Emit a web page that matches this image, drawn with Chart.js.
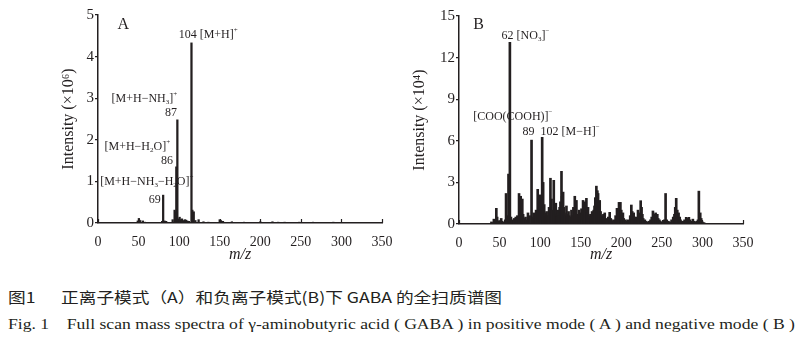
<!DOCTYPE html>
<html>
<head>
<meta charset="utf-8">
<script src="https://cdn.jsdelivr.net/npm/chart.js@4.4.0/dist/chart.umd.min.js"></script>
<style>
    body { margin: 0; background: #fff; width: 800px; height: 343px; overflow: hidden; position: relative; color: #231f20; }
    #wrapA { position: absolute; left: 0; top: 0; width: 400px; height: 270px; }
    #wrapB { position: absolute; left: 400px; top: 0; width: 400px; height: 270px; }
    .cap { position: absolute; left: 8px; white-space: pre; transform-origin: 0 50%; line-height: 18px; }
    #capCn { top: 288px; font-family: 'Noto Sans CJK SC', sans-serif; font-size: 15px; }
    #capEn { top: 315px; font-family: 'Liberation Serif', serif; font-size: 15px; }
</style>
</head>
<body>
<div id="wrapA"><canvas id="chartA" width="400" height="270"></canvas></div>
<div id="wrapB"><canvas id="chartB" width="400" height="270"></canvas></div>
<div class="cap" id="capCn">图1　  正离子模式（A）和负离子模式(B)下 GABA 的全扫质谱图</div>
<div class="cap" id="capEn">Fig. 1    Full scan mass spectra of γ-aminobutyric acid ( GABA ) in positive mode ( A ) and negative mode ( B )</div>

<script>
// ── DATA ──────────────────────────────────────────────────────────────────────
// Panel A: positive mode, intensity x10^6
const mzA  = [49, 50.4, 52, 55.3, 58, 79, 80.3, 82, 84, 92, 94.4, 95.3, 96.5, 97.8, 99, 100.6, 102, 103.5, 105, 107,
              108.5, 110, 112, 115.2, 116.3, 118, 120, 124, 130, 136, 150, 151.5, 154, 165, 180, 200, 215, 222, 230, 248, 265, 290];
const intA = [0.05, 0.11, 0.06, 0.05, 0.02, 0.04, 0.67, 0.05, 0.04, 0.08, 0.31, 0.27, 1.35, 2.48, 0.1, 0.14, 0.08, 0.1, 0.06, 0.08,
              0.07, 0.05, 0.04, 4.33, 0.31, 0.27, 0.06, 0.08, 0.03, 0.02, 0.08, 0.06, 0.04, 0.03, 0.02, 0.03, 0.03, 0.02, 0.02, 0.02, 0.02, 0.02];

// Panel B: negative mode, intensity x10^4
const mzB  = [40, 41, 43, 45, 46, 47, 48, 50, 52, 53, 55, 57, 58, 59, 61, 62.7, 64, 65, 67, 68,
              70, 71, 72, 74, 76, 78, 79, 80, 82, 83, 85, 86, 87, 89.4, 91, 92, 93, 95, 97, 98,
              99.6, 101, 102.5, 103.7, 105, 106, 107, 108, 110, 111, 112.7, 114, 115, 116.8, 118, 119.3, 120, 121, 122, 123,
              124, 125, 126.3, 127, 128.3, 129, 130, 131, 132.4, 133, 134, 135, 136, 137, 138.6, 140, 141, 142.7, 143.5, 144.7,
              146, 148, 149, 150, 151, 152.9, 154, 155, 157, 158, 159, 160, 161, 162, 163, 164, 165, 166, 167, 168,
              169.3, 170.5, 171.4, 172.5, 173.4, 174.5, 176, 177, 178, 179.6, 181, 182, 184, 185.7, 187, 188, 190, 191, 193, 194.7,
              196, 197.2, 198.9, 200, 201, 202, 203, 205, 206, 208, 209, 211, 212.4, 213.5, 215.3, 216.5, 218, 219, 220.6, 222,
              223.9, 225, 226, 227, 229, 230, 232, 234, 236, 237.5, 239, 240.5, 242.3, 244.4, 245.5, 247, 248, 250, 252, 253,
              254.6, 256, 258, 260, 262, 264, 265.5, 266.5, 267.7, 269, 270.6, 272, 273, 275, 277, 278, 280, 281.5, 283.3, 284.5,
              286, 288.2, 289.5, 291, 293, 294.5, 295.6, 297.3, 298.5, 300, 302];
const intB = [0.15, 0.1, 0.35, 0.3, 1.13, 0.5, 0.2, 0.25, 0.4, 0.2, 0.15, 0.3, 2.2, 0.6, 3.6, 13.1, 0.5, 0.3, 0.2, 0.4,
              0.5, 0.3, 0.6, 2.2, 2.0, 1.8, 0.7, 0.4, 0.5, 0.3, 0.8, 0.4, 0.6, 6.05, 0.5, 0.8, 0.4, 1.0, 2.5, 1.2,
              2.1, 1.0, 6.25, 3.0, 1.4, 0.8, 0.5, 0.9, 0.6, 1.2, 3.3, 1.8, 1.0, 3.15, 1.4, 1.5, 0.7, 0.5, 1.0, 0.6,
              1.2, 1.6, 3.8, 2.0, 2.3, 1.2, 0.8, 0.6, 1.3, 0.7, 0.5, 0.9, 0.6, 0.5, 1.0, 0.6, 1.2, 2.0, 1.4, 1.7,
              0.7, 1.0, 0.6, 0.8, 1.1, 1.7, 1.0, 1.6, 1.85, 0.8, 1.2, 0.6, 0.4, 0.7, 0.5, 0.9, 0.6, 1.0, 1.3, 1.9,
              2.73, 2.4, 2.2, 1.5, 1.7, 0.9, 0.6, 0.5, 0.7, 0.8, 0.4, 0.3, 0.5, 0.84, 0.4, 0.3, 0.2, 0.3, 0.6, 1.13,
              1.0, 1.56, 1.56, 1.0, 0.6, 0.8, 0.4, 0.3, 0.2, 0.3, 0.2, 0.6, 1.37, 0.9, 0.8, 0.5, 0.4, 0.5, 1.0, 0.8,
              1.68, 1.2, 0.7, 0.4, 0.3, 0.2, 0.15, 0.2, 0.3, 0.5, 0.94, 0.7, 0.8, 0.7, 0.4, 0.3, 0.2, 0.15, 0.2, 0.3,
              2.2, 0.3, 0.2, 0.15, 0.3, 0.5, 0.7, 1.2, 1.85, 1.0, 0.8, 0.5, 0.3, 0.2, 0.2, 0.3, 0.48, 0.4, 0.48, 0.3,
              0.2, 0.35, 0.2, 0.15, 0.2, 0.3, 2.37, 0.8, 0.4, 0.15, 0.1];

const xTicks   = [0, 50, 100, 150, 200, 250, 300, 350];
const yTicksA  = [0, 1, 2, 3, 4, 5];
const yTicksB  = [0, 3, 6, 9, 12, 15];
const yTitleA  = 'Intensity (×10⁶)';
const yTitleB  = 'Intensity (×10⁴)';
const xTitle   = 'm/z';

// peak annotations, anchored in data units (m/z, intensity)
const labelsA = [
    { x: 24,   y: 4.76, size: 16, align: 'left',   parts: ['A'] },
    { x: 99.4, y: 4.52, size: 12, align: 'left',   parts: ['104 [M+H]', { sup: '+' }] },
    { x: 16.7, y: 2.98, size: 12, align: 'left',   parts: ['[M+H−NH', { sub: '3' }, ']', { sup: '+' }] },
    { x: 90,   y: 2.64, size: 12, align: 'center', parts: ['87'] },
    { x: 8,    y: 1.84, size: 12, align: 'left',   parts: ['[M+H−H', { sub: '2' }, 'O]', { sup: '+' }] },
    { x: 85,   y: 1.49, size: 12, align: 'center', parts: ['86'] },
    { x: 2.7,  y: 0.99, size: 12, align: 'left',   parts: ['[M+H−NH', { sub: '3' }, '−H', { sub: '2' }, 'O]', { sup: '+' }] },
    { x: 70,   y: 0.55, size: 12, align: 'center', parts: ['69'] }
];
const labelsB = [
    { x: 17.6, y: 14.35, size: 16, align: 'left', parts: ['B'] },
    { x: 52.5, y: 13.6,  size: 12, align: 'left', parts: ['62 [NO', { sub: '3' }, ']', { sup: '−' }] },
    { x: 17.6, y: 7.74,  size: 12, align: 'left', parts: ['[COO(COOH)]', { sup: '−' }] },
    { x: 78.3, y: 6.65,  size: 12, align: 'left', parts: ['89  102 [M−H]', { sup: '−' }] }
];

// ── PLUGINS ───────────────────────────────────────────────────────────────────
const FONT = '"Liberation Serif", serif';

function drawRich(ctx, parts, x, y, size, align) {
    const small = Math.round(size * 0.62);
    const pieces = parts.map(p => {
        const isStr = typeof p === 'string';
        const text = isStr ? p : (p.sub || p.sup);
        const fs = isStr ? size : small;
        ctx.font = fs + 'px ' + FONT;
        const dy = isStr ? 0 : (p.sub ? size * 0.28 : -size * 0.38);
        return { text, fs, dy, w: ctx.measureText(text).width };
    });
    const total = pieces.reduce((s, p) => s + p.w, 0);
    let cx = align === 'center' ? x - total / 2 : align === 'right' ? x - total : x;
    pieces.forEach(p => {
        ctx.font = p.fs + 'px ' + FONT;
        ctx.fillText(p.text, cx, y + p.dy);
        cx += p.w;
    });
}

const peakLabels = {
    id: 'peakLabels',
    afterDatasetsDraw(chart, args, opts) {
        const ctx = chart.ctx, xs = chart.scales.x, ys = chart.scales.y;
        ctx.save();
        ctx.fillStyle = '#231f20';
        ctx.textAlign = 'left';
        ctx.textBaseline = 'middle';
        (opts.items || []).forEach(l => {
            drawRich(ctx, l.parts, xs.getPixelForValue(l.x), ys.getPixelForValue(l.y), l.size, l.align);
        });
        // inward x ticks
        ctx.strokeStyle = '#231f20';
        ctx.lineWidth = 1.2;
        xTicks.forEach(v => {
            const px = Math.round(xs.getPixelForValue(v)) + 0.5;
            ctx.beginPath();
            ctx.moveTo(px, xs.top);
            ctx.lineTo(px, xs.top - 4);
            ctx.stroke();
        });
        ctx.restore();
    }
};

// ── CHART BUILDER ─────────────────────────────────────────────────────────────
function makeChart(canvasId, mz, inten, yMax, yTicks, yTitle, labels, box) {
    const ctx = document.getElementById(canvasId).getContext('2d');
    return new Chart(ctx, {
        type: 'bar',
        data: {
            datasets: [{
                data: mz.map((m, i) => ({ x: m, y: inten[i] })),
                backgroundColor: '#231f20',
                borderWidth: 0,
                barThickness: box.bar
            }]
        },
        options: {
            responsive: false, animation: false,
            layout: { padding: { left: 0, top: box.top, right: box.right, bottom: 0 } },
            plugins: { legend: { display: false }, tooltip: { enabled: false }, peakLabels: { items: labels } },
            scales: {
                x: {
                    type: 'linear', min: 0, max: 350, offset: false,
                    afterBuildTicks: s => { s.ticks = xTicks.map(v => ({ value: v })); },
                    afterFit: s => { s.height = box.xh; },
                    grid: { display: false, offset: false },
                    border: { display: true, color: '#231f20', width: 1.5 },
                    ticks: { color: '#231f20', padding: 3, maxRotation: 0, font: { family: FONT, size: 14 } },
                    title: { display: true, text: xTitle, color: '#231f20', padding: { top: 0, bottom: 5.4 },
                             font: { family: FONT, size: 16, style: 'italic' } }
                },
                y: {
                    min: 0, max: yMax,
                    afterBuildTicks: s => { s.ticks = yTicks.map(v => ({ value: v })); },
                    afterFit: s => { s.width = box.yw; },
                    grid: { display: true, drawOnChartArea: false, drawTicks: true, tickLength: 3, color: '#231f20', lineWidth: 1.2 },
                    border: { display: true, color: '#231f20', width: 1.5 },
                    ticks: { color: '#231f20', padding: 1, font: { family: FONT, size: 15 } },
                    title: { display: true, text: yTitle, color: '#231f20', padding: { top: box.titlePad, bottom: 0 },
                             font: { family: FONT, size: 16 } }
                }
            }
        },
        plugins: [peakLabels]
    });
}

makeChart('chartA', mzA, intA, 5, yTicksA, yTitleA, labelsA,
    { top: 15, right: 18, xh: 47, yw: 98, titlePad: 59.4, bar: 1.6 });
makeChart('chartB', mzB, intB, 15, yTicksB, yTitleB, labelsB,
    { top: 16, right: 57, xh: 46, yw: 59, titlePad: 10.4, bar: 2 });

// ── CAPTIONS ──────────────────────────────────────────────────────────────────
function fitCaption(id, target) {
    const el = document.getElementById(id);
    const w = el.getBoundingClientRect().width;
    el.style.transform = 'scaleX(' + (target / w) + ')';
}
fitCaption('capCn', 494);
fitCaption('capEn', 787);
</script>
</body>
</html>
